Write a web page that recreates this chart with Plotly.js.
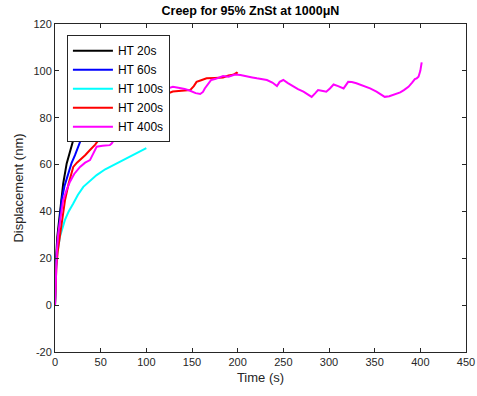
<!DOCTYPE html>
<html><head><meta charset="utf-8">
<script src="https://cdn.plot.ly/plotly-3.0.1.min.js"></script>
<style>body{margin:0;padding:0;background:#fff}#chart{width:477px;height:396px}</style>
</head><body><div id="chart"></div>
<script>
const seriesNames = ["HT 20s", "HT 60s", "HT 100s", "HT 200s", "HT 400s"];
const seriesColors = ["#000000", "#0000ff", "#00ffff", "#ff0000", "#ff00ff"];

const yTickVals = [-20, 0, 20, 40, 60, 80, 100, 120];
const yTickText = ["-20", "0", "20", "40", "60", "80", "100", "120"];

const t20 = [0, 0.5, 1.1, 2.5, 4.7, 7, 9, 12.8, 16, 20];
const y20 = [0, 10, 19.2, 29, 37.7, 46, 52, 60.5, 65.5, 70.5];

const t60 = [0, 0.5, 1.2, 2.2, 3.6, 7.3, 10.5, 14.6, 18, 21.9, 26, 31, 36, 42, 50, 60];
const y60 = [0, 9, 17, 24, 30.6, 44.9, 51, 56.3, 60.5, 64, 68.5, 73.3, 76.5, 79.7, 83, 86.5];

const t100 = [0, 0.5, 1.1, 2.5, 5.4, 10.8, 15, 20, 25, 31, 38, 45.6, 55, 67.5, 80, 90, 100];
const y100 = [0, 7, 15, 22, 29.2, 36.3, 40, 43.4, 47, 50.5, 53, 55.5, 58, 60.5, 63, 65, 67];

const t200 = [0, 0.5, 1.5, 3, 5.5, 8, 11, 15, 20, 24, 27.4, 33, 38.3, 44, 49, 51, 53, 55, 58, 62, 65.7, 75, 90, 105, 118, 120.4, 122, 124, 129, 138, 148, 152, 155, 160, 166, 175, 184, 190, 195, 199, 200];
const y200 = [0, 8, 16.4, 23, 30.6, 38, 44.9, 52, 59, 60.8, 61.9, 64, 66.2, 68.5, 71.2, 73, 76.1, 77, 78.3, 79, 79.7, 82, 84, 85.5, 86.5, 86.8, 88.5, 90.4, 91.2, 91.5, 91.8, 93.5, 95.3, 96, 96.8, 97, 97.2, 98, 98.3, 99.2, 98.9];

const t400 = [0, 0.5, 1.1, 2, 3.6, 6, 9, 12.5, 16.4, 21, 27.4, 33, 38.3, 42, 45.6, 52, 60, 62, 65.7, 70, 74.8, 79, 84, 85.7, 95, 105, 115, 120.4, 125, 129, 135, 142, 148, 154, 159, 162, 164, 168, 171, 176, 184, 190, 197, 203, 210, 216, 221, 227, 232, 238, 243, 246, 250, 255, 261, 266, 272, 277, 281, 285, 288, 292, 297, 301, 305, 310, 316, 321, 325, 330, 337, 345, 352, 356, 361, 366, 372, 378, 382, 387, 391, 394, 396, 398, 400, 401.5];
const y400 = [0, 7, 16.4, 23, 30.6, 38, 44.9, 49, 52.7, 56, 59, 60.8, 61.9, 64.8, 67.6, 68, 68.3, 69, 71.2, 73, 75.5, 77, 79, 81.9, 86, 89, 91.5, 92.1, 92.8, 93.2, 92.8, 92.3, 91.5, 90.5, 90.1, 91, 92.5, 94.5, 96.1, 96.6, 97.8, 97.5, 98.4, 98.2, 97.5, 97.2, 96.8, 96.5, 96.1, 95, 93.5, 95.3, 96.1, 94.8, 93.2, 92.2, 91.1, 90, 88.9, 90.5, 91.8, 91.5, 91.1, 92.5, 94.2, 93.5, 92.5, 95.3, 95.2, 94.7, 93.8, 92.5, 91.1, 90, 88.9, 89.2, 90, 90.8, 91.8, 93.2, 95, 96.5, 96.8, 97.5, 100, 103.6];

const tData = [t20, t60, t100, t200, t400];
const yData = [y20, y60, y100, y200, y400];

const traces = seriesNames.map((n, i) => ({
  x: tData[i], y: yData[i], name: n, type: 'scatter', mode: 'lines',
  line: {color: seriesColors[i], width: 2}
}));

const layout = {
  width: 477, height: 396,
  margin: {l: 55, r: 11, t: 24, b: 44},
  paper_bgcolor: '#fff', plot_bgcolor: '#fff',
  font: {family: 'Arial, Liberation Sans, sans-serif', size: 11, color: '#262626'},
  title: {text: '<b>Creep for 95% ZnSt at 1000μN</b>', font: {size: 12.5, color: '#000'}, x: 0.525, xanchor: 'center', y: 0.985, yanchor: 'top'},
  xaxis: {
    range: [0, 450], dtick: 50, tick0: 0, ticks: 'inside', ticklen: 4, tickcolor: '#262626',
    showline: true, linecolor: '#262626', linewidth: 1, mirror: 'ticks', showgrid: false, zeroline: false,
    title: {text: 'Time (s)', font: {size: 13}, standoff: 5}, tickfont: {size: 11}
  },
  yaxis: {
    range: [-20, 120], tickmode: 'array', tickvals: yTickVals, ticktext: yTickText,
    ticks: 'inside', ticklen: 4, tickcolor: '#262626',
    showline: true, linecolor: '#262626', linewidth: 1, mirror: 'ticks', showgrid: false, zeroline: false,
    title: {text: 'Displacement (nm)', font: {size: 13}, standoff: 6}, tickfont: {size: 11}
  },
  legend: {
    x: 0.029, y: 0.966, xanchor: 'left', yanchor: 'top',
    bgcolor: '#fff', bordercolor: '#262626', borderwidth: 1,
    font: {size: 12, color: '#000'}, tracegroupgap: 0, itemwidth: 40
  },
  showlegend: true
};

Plotly.newPlot('chart', traces, layout, {displayModeBar: false, staticPlot: true});
</script></body></html>
